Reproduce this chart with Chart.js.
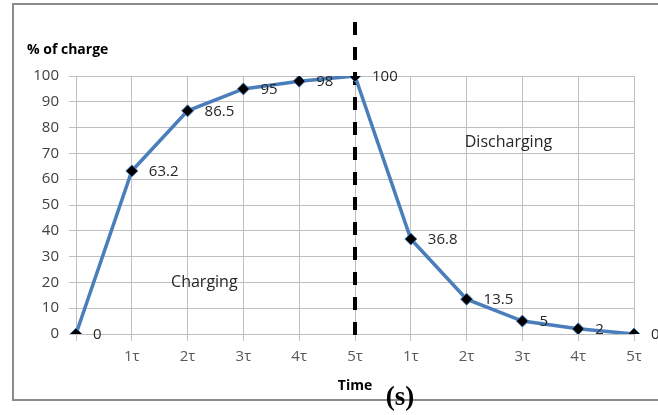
<!DOCTYPE html>
<html>
<head>
<meta charset="utf-8">
<script src="https://cdn.jsdelivr.net/npm/chart.js@4/dist/chart.umd.min.js"></script>
<style>
  html, body { margin: 0; padding: 0; background: #fff; }
  #wrap { width: 658px; height: 415px; position: relative; }
</style>
</head>
<body>
<div id="wrap"><canvas id="chart" width="658" height="415"></canvas></div>
<script>
// time steps: charging 0..5τ, then discharging 1τ..5τ
const timeLabels = ['', '1τ', '2τ', '3τ', '4τ', '5τ', '1τ', '2τ', '3τ', '4τ', '5τ'];
const chargePct = [0, 63.2, 86.5, 95, 98, 100, 36.8, 13.5, 5, 2, 0];
const pointText = ['0', '63.2', '86.5', '95', '98', '100', '36.8', '13.5', '5', '2', '0'];
const yTicks = [0, 10, 20, 30, 40, 50, 60, 70, 80, 90, 100];
// phase labels, placed in data units (category index, % value)
const phases = [
  { text: 'Charging', x: 2.3, y: 20 },
  { text: 'Discharging', x: 7.75, y: 74.4 }
];
const switchIndex = 5;

const FONT = "'Open Sans', 'Liberation Sans', sans-serif";
const LINE_BLUE = '#4a7ebb';
const GRID = '#bfbfbf';

const decorations = {
  id: 'decorations',
  beforeDraw(chart) {
    const ctx = chart.ctx;
    ctx.save();
    // outer frame
    ctx.strokeStyle = '#8c8c8c';
    ctx.lineWidth = 2;
    ctx.strokeRect(13, 4, 700, 396);
    ctx.restore();
  },
  beforeDatasetsDraw(chart) {
    // dashed divider between charging and discharging
    const ctx = chart.ctx;
    const sx = chart.scales.x.getPixelForValue(switchIndex);
    ctx.save();
    ctx.strokeStyle = '#000';
    ctx.lineWidth = 4;
    ctx.setLineDash([13, 12]);
    ctx.beginPath();
    ctx.moveTo(sx, 22);
    ctx.lineTo(sx, 346);
    ctx.stroke();
    ctx.restore();
  },
  afterDatasetsDraw(chart) {
    const ctx = chart.ctx;
    const xs = chart.scales.x, ys = chart.scales.y;
    const meta = chart.getDatasetMeta(0);
    ctx.save();

    // value labels to the right of each point
    ctx.font = '15px ' + FONT;
    ctx.fillStyle = '#262626';
    ctx.textAlign = 'left';
    ctx.textBaseline = 'middle';
    meta.data.forEach((pt, i) => {
      ctx.fillText(pointText[i], pt.x + 17, pt.y + 1);
    });

    // phase captions
    ctx.font = '16px ' + FONT;
    ctx.fillStyle = '#262626';
    ctx.textAlign = 'center';
    phases.forEach(p => {
      ctx.fillText(p.text, xs.getPixelForValue(p.x), ys.getPixelForValue(p.y));
    });

    // y axis caption above the axis
    ctx.font = 'bold 14px ' + FONT;
    ctx.fillStyle = '#000';
    ctx.textAlign = 'left';
    ctx.fillText('% of charge', 27, 50);

    // unit mark
    ctx.font = 'bold 27px "Liberation Serif", serif';
    ctx.textAlign = 'center';
    ctx.textBaseline = 'alphabetic';
    ctx.fillText('(s)', 400, 405);
    ctx.restore();
  }
};

new Chart(document.getElementById('chart'), {
  type: 'line',
  data: {
    labels: timeLabels,
    datasets: [{
      data: chargePct,
      borderColor: LINE_BLUE,
      borderWidth: 3.5,
      tension: 0,
      pointStyle: 'rectRot',
      pointRadius: 6,
      pointBackgroundColor: '#000',
      pointBorderColor: LINE_BLUE,
      pointBorderWidth: 1
    }]
  },
  options: {
    responsive: false,
    animation: false,
    layout: { padding: { left: 0, right: 24, top: 76, bottom: 0 } },
    plugins: {
      legend: { display: false },
      tooltip: { enabled: false }
    },
    scales: {
      x: {
        type: 'category',
        offset: false,
        afterFit(scale) { scale.height = 81; },
        grid: { color: GRID, lineWidth: 1, tickLength: 7, drawTicks: true },
        border: { color: GRID },
        ticks: {
          font: { family: FONT, size: 15 },
          color: '#595959',
          padding: 7,
          maxRotation: 0,
          autoSkip: false
        },
        title: {
          display: true,
          text: 'Time',
          font: { family: FONT, size: 14, weight: 'bold' },
          color: '#000',
          padding: { top: 0, bottom: 21 }
        }
      },
      y: {
        min: 0,
        max: 100,
        afterFit(scale) { scale.width = 76; },
        afterBuildTicks(scale) { scale.ticks = yTicks.map(v => ({ value: v })); },
        grid: { color: GRID, lineWidth: 1, tickLength: 7 },
        border: { color: GRID },
        ticks: {
          font: { family: FONT, size: 15 },
          color: '#404040',
          padding: 10
        }
      }
    }
  },
  plugins: [decorations]
});
</script>
</body>
</html>
